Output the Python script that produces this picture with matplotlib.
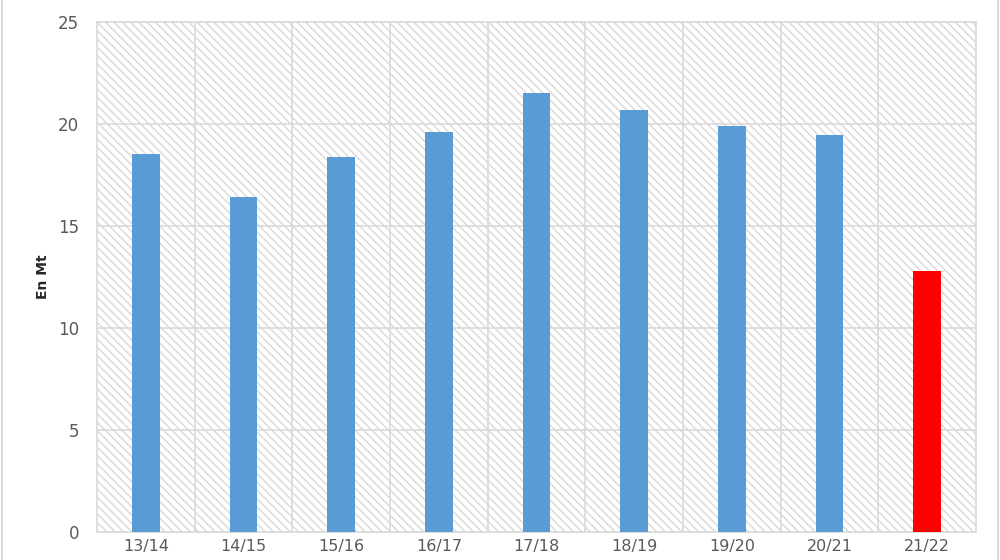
import matplotlib
matplotlib.use('Agg')
import matplotlib.pyplot as plt
from matplotlib.patches import Rectangle
from matplotlib.lines import Line2D

# campaign labels and values (Mt)
seasons = ['13/14', '14/15', '15/16', '16/17', '17/18', '18/19', '19/20', '20/21', '21/22']
values = [18.55, 16.4, 18.4, 19.6, 21.5, 20.7, 19.9, 19.45, 12.8]
colors = ['#5B9BD5'] * 8 + ['#FF0000']

grid_col = '#D9D9D9'
text_col = '#595959'

fig = plt.figure(figsize=(10, 5.6), dpi=100)
ax = fig.add_axes([0.097, 0.05, 0.879, 0.9107])

# hatched background of plot area
plt.rcParams['hatch.linewidth'] = 1.0
ax.add_patch(Rectangle((0, 0), 1, 1, transform=ax.transAxes, facecolor='white',
                       edgecolor=grid_col, hatch='\\\\\\\\', linewidth=0, zorder=0))

x = list(range(len(seasons)))
ax.bar(x, values, width=0.28, color=colors, zorder=3)

ax.set_xlim(-0.5, len(seasons) - 0.5)
ax.set_ylim(0, 25)
ax.set_yticks([0, 5, 10, 15, 20, 25])
ax.set_xticks(x)
ax.set_xticklabels(seasons)

# grid lines
for y in [5, 10, 15, 20]:
    ax.axhline(y, color=grid_col, linewidth=1.2, zorder=1)
for b in range(1, len(seasons)):
    ax.axvline(b - 0.5, color=grid_col, linewidth=1.2, zorder=1)

for spine in ax.spines.values():
    spine.set_color(grid_col)
    spine.set_linewidth(1.2)

ax.tick_params(axis='both', length=0, labelsize=12, colors=text_col)
ax.tick_params(axis='y', pad=13)
ax.tick_params(axis='x', pad=5, labelsize=11.5)
ax.set_ylabel('En Mt', fontsize=10, fontweight='bold', color='#262626')
ax.yaxis.set_label_coords(-0.053, 0.5)

# outer chart border lines
fig.add_artist(Line2D([0.002, 0.002], [0, 1], color=grid_col, linewidth=1.5, transform=fig.transFigure))
fig.add_artist(Line2D([0.998, 0.998], [0, 1], color=grid_col, linewidth=1.5, transform=fig.transFigure))

fig.savefig('out.png', dpi=100)
